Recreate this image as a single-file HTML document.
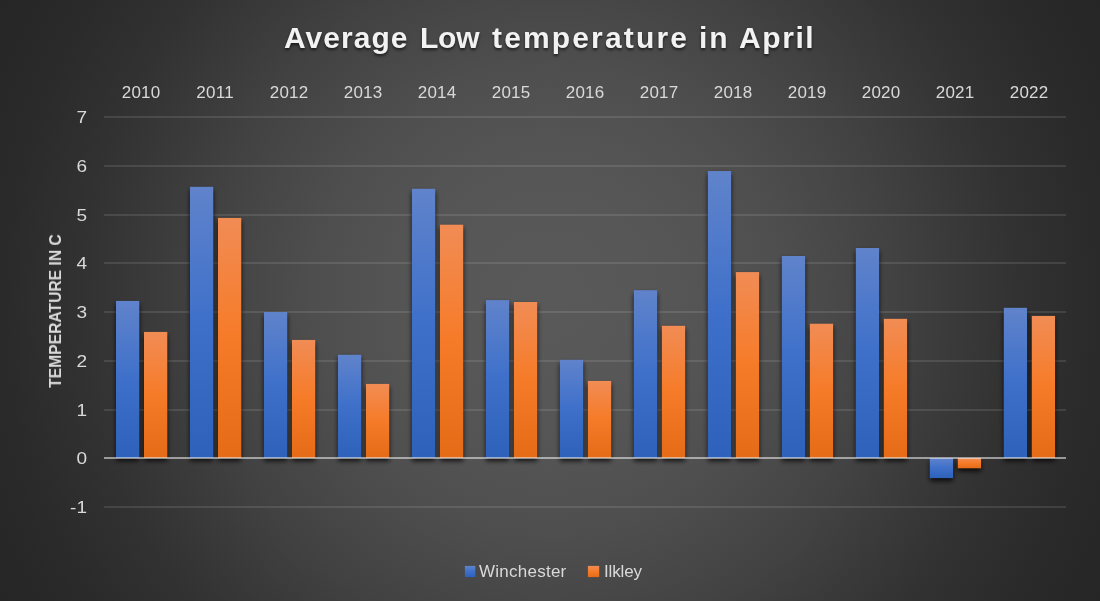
<!DOCTYPE html>
<html><head><meta charset="utf-8"><title>Average Low temperature in April</title>
<style>
html,body{margin:0;padding:0;}
body{width:1100px;height:601px;overflow:hidden;position:relative;font-family:"Liberation Sans",sans-serif;
background:#262626;}
#bg{position:absolute;left:0;top:0;width:1100px;height:601px;
background:radial-gradient(circle 626px at 550px 300.5px, #595959 0px, #585858 60px, #575757 100px, #545454 160px, #4e4e4e 237px, #474747 300px, #424242 344px, #3a3a3a 403px, #323232 465px, #2b2b2b 540px, #282828 580px, #262626 626px);}
#ch{position:absolute;left:0;top:0;}
.xl{position:absolute;top:83px;width:74px;text-align:center;font-size:17px;line-height:20px;color:#d9d9d9;letter-spacing:0.25px;text-indent:0.25px;}
.yl{position:absolute;left:38.8px;width:48px;text-align:right;transform:scaleX(1.12);transform-origin:100% 50%;font-size:17px;line-height:20px;color:#d9d9d9;}
.tw,.xl,.yl,.lg{will-change:transform;}
.tw{position:absolute;top:20px;font-size:30px;transform:translateY(0.5px);line-height:34px;font-weight:bold;color:#f2f2f2;text-shadow:0 2px 3px rgba(0,0,0,0.6);white-space:nowrap;}
#yt{position:absolute;left:56px;top:311px;width:0;height:0;}
#yt span{position:absolute;white-space:nowrap;font-size:16.7px;font-weight:bold;color:#d9d9d9;line-height:20px;transform:translate(-50%,-50%) rotate(-90deg) scaleX(0.938);display:block;}
.lg{position:absolute;font-size:17px;line-height:20px;color:#d9d9d9;top:562px;white-space:nowrap;letter-spacing:0.25px;}
</style></head><body><div id="bg"></div>

<svg id="ch" width="1100" height="601" viewBox="0 0 1100 601">
<defs>
<linearGradient id="g1" x1="0" y1="0" x2="0" y2="1"><stop offset="0" stop-color="#6083cb"/><stop offset="0.5" stop-color="#3e70ca"/><stop offset="1" stop-color="#2e61ba"/></linearGradient>
<linearGradient id="g2" x1="0" y1="0" x2="0" y2="1"><stop offset="0" stop-color="#f18c55"/><stop offset="0.5" stop-color="#f67b28"/><stop offset="1" stop-color="#e56b17"/></linearGradient>
<filter id="sh" filterUnits="userSpaceOnUse" x="90" y="150" width="1000" height="350"><feGaussianBlur in="SourceAlpha" stdDeviation="2.4"/><feOffset dx="0" dy="3"/><feComponentTransfer><feFuncA type="linear" slope="0.8"/></feComponentTransfer></filter>
</defs>
<rect x="104" y="116" width="962" height="2" fill="#f2f2f2" fill-opacity="0.11"/>
<rect x="104" y="165" width="962" height="2" fill="#f2f2f2" fill-opacity="0.11"/>
<rect x="104" y="214" width="962" height="2" fill="#f2f2f2" fill-opacity="0.11"/>
<rect x="104" y="262" width="962" height="2" fill="#f2f2f2" fill-opacity="0.11"/>
<rect x="104" y="311" width="962" height="2" fill="#f2f2f2" fill-opacity="0.11"/>
<rect x="104" y="360" width="962" height="2" fill="#f2f2f2" fill-opacity="0.11"/>
<rect x="104" y="409" width="962" height="2" fill="#f2f2f2" fill-opacity="0.11"/>
<rect x="104" y="506" width="962" height="2" fill="#f2f2f2" fill-opacity="0.11"/>
<g filter="url(#sh)"><rect x="116.00" y="300.90" width="23.3" height="157.10" fill="url(#g1)"/><rect x="144.00" y="331.90" width="23.3" height="126.10" fill="url(#g2)"/><rect x="189.98" y="186.80" width="23.3" height="271.20" fill="url(#g1)"/><rect x="217.98" y="217.90" width="23.3" height="240.10" fill="url(#g2)"/><rect x="263.96" y="312.00" width="23.3" height="146.00" fill="url(#g1)"/><rect x="291.96" y="339.90" width="23.3" height="118.10" fill="url(#g2)"/><rect x="337.94" y="354.80" width="23.3" height="103.20" fill="url(#g1)"/><rect x="365.94" y="383.90" width="23.3" height="74.10" fill="url(#g2)"/><rect x="411.92" y="188.75" width="23.3" height="269.25" fill="url(#g1)"/><rect x="439.92" y="224.70" width="23.3" height="233.30" fill="url(#g2)"/><rect x="485.90" y="300.10" width="23.3" height="157.90" fill="url(#g1)"/><rect x="513.90" y="302.00" width="23.3" height="156.00" fill="url(#g2)"/><rect x="559.88" y="359.80" width="23.3" height="98.20" fill="url(#g1)"/><rect x="587.88" y="380.90" width="23.3" height="77.10" fill="url(#g2)"/><rect x="633.86" y="290.20" width="23.3" height="167.80" fill="url(#g1)"/><rect x="661.86" y="325.80" width="23.3" height="132.20" fill="url(#g2)"/><rect x="707.84" y="171.05" width="23.3" height="286.95" fill="url(#g1)"/><rect x="735.84" y="272.10" width="23.3" height="185.90" fill="url(#g2)"/><rect x="781.82" y="256.00" width="23.3" height="202.00" fill="url(#g1)"/><rect x="809.82" y="323.70" width="23.3" height="134.30" fill="url(#g2)"/><rect x="855.80" y="248.00" width="23.3" height="210.00" fill="url(#g1)"/><rect x="883.80" y="318.80" width="23.3" height="139.20" fill="url(#g2)"/><rect x="929.78" y="458.00" width="23.3" height="20.10" fill="url(#g1)"/><rect x="957.78" y="458.00" width="23.3" height="10.30" fill="url(#g2)"/><rect x="1003.76" y="307.80" width="23.3" height="150.20" fill="url(#g1)"/><rect x="1031.76" y="315.90" width="23.3" height="142.10" fill="url(#g2)"/></g>
<rect x="116.00" y="300.90" width="23.3" height="157.10" fill="url(#g1)"/>
<rect x="144.00" y="331.90" width="23.3" height="126.10" fill="url(#g2)"/>
<rect x="189.98" y="186.80" width="23.3" height="271.20" fill="url(#g1)"/>
<rect x="217.98" y="217.90" width="23.3" height="240.10" fill="url(#g2)"/>
<rect x="263.96" y="312.00" width="23.3" height="146.00" fill="url(#g1)"/>
<rect x="291.96" y="339.90" width="23.3" height="118.10" fill="url(#g2)"/>
<rect x="337.94" y="354.80" width="23.3" height="103.20" fill="url(#g1)"/>
<rect x="365.94" y="383.90" width="23.3" height="74.10" fill="url(#g2)"/>
<rect x="411.92" y="188.75" width="23.3" height="269.25" fill="url(#g1)"/>
<rect x="439.92" y="224.70" width="23.3" height="233.30" fill="url(#g2)"/>
<rect x="485.90" y="300.10" width="23.3" height="157.90" fill="url(#g1)"/>
<rect x="513.90" y="302.00" width="23.3" height="156.00" fill="url(#g2)"/>
<rect x="559.88" y="359.80" width="23.3" height="98.20" fill="url(#g1)"/>
<rect x="587.88" y="380.90" width="23.3" height="77.10" fill="url(#g2)"/>
<rect x="633.86" y="290.20" width="23.3" height="167.80" fill="url(#g1)"/>
<rect x="661.86" y="325.80" width="23.3" height="132.20" fill="url(#g2)"/>
<rect x="707.84" y="171.05" width="23.3" height="286.95" fill="url(#g1)"/>
<rect x="735.84" y="272.10" width="23.3" height="185.90" fill="url(#g2)"/>
<rect x="781.82" y="256.00" width="23.3" height="202.00" fill="url(#g1)"/>
<rect x="809.82" y="323.70" width="23.3" height="134.30" fill="url(#g2)"/>
<rect x="855.80" y="248.00" width="23.3" height="210.00" fill="url(#g1)"/>
<rect x="883.80" y="318.80" width="23.3" height="139.20" fill="url(#g2)"/>
<rect x="929.78" y="458.00" width="23.3" height="20.10" fill="url(#g1)"/>
<rect x="957.78" y="458.00" width="23.3" height="10.30" fill="url(#g2)"/>
<rect x="1003.76" y="307.80" width="23.3" height="150.20" fill="url(#g1)"/>
<rect x="1031.76" y="315.90" width="23.3" height="142.10" fill="url(#g2)"/>
<rect x="104" y="457" width="962" height="2" fill="#f2f2f2" fill-opacity="0.55"/>
<rect x="464.9" y="565.9" width="10.4" height="11.2" fill="url(#g1)"/>
<rect x="587.9" y="565.9" width="11.3" height="11.2" fill="url(#g2)"/>
</svg>
<div class="yl" style="top:107.90px">7</div>
<div class="yl" style="top:156.90px">6</div>
<div class="yl" style="top:205.90px">5</div>
<div class="yl" style="top:253.90px">4</div>
<div class="yl" style="top:302.90px">3</div>
<div class="yl" style="top:351.90px">2</div>
<div class="yl" style="top:400.90px">1</div>
<div class="yl" style="top:448.90px">0</div>
<div class="yl" style="top:497.90px">-1</div>
<div class="xl" style="left:104.1px">2010</div>
<div class="xl" style="left:178.1px">2011</div>
<div class="xl" style="left:252.1px">2012</div>
<div class="xl" style="left:326.1px">2013</div>
<div class="xl" style="left:400.1px">2014</div>
<div class="xl" style="left:474.1px">2015</div>
<div class="xl" style="left:548.1px">2016</div>
<div class="xl" style="left:622.1px">2017</div>
<div class="xl" style="left:696.1px">2018</div>
<div class="xl" style="left:770.1px">2019</div>
<div class="xl" style="left:844.1px">2020</div>
<div class="xl" style="left:918.1px">2021</div>
<div class="xl" style="left:992.1px">2022</div>
<span class="tw" style="left:284.21px;letter-spacing:1.02px">Average</span>
<span class="tw" style="left:420.35px;letter-spacing:-0.23px">Low</span>
<span class="tw" style="left:492.01px;letter-spacing:2.15px">temperature</span>
<span class="tw" style="left:698.62px;letter-spacing:1.93px">in</span>
<span class="tw" style="left:739.21px;letter-spacing:1.58px">April</span>
<div id="yt"><span>TEMPERATURE IN C</span></div>
<div class="lg" style="left:479px">Winchester</div>
<div class="lg" style="left:603.8px;letter-spacing:-0.15px">Ilkley</div>
</body></html>
